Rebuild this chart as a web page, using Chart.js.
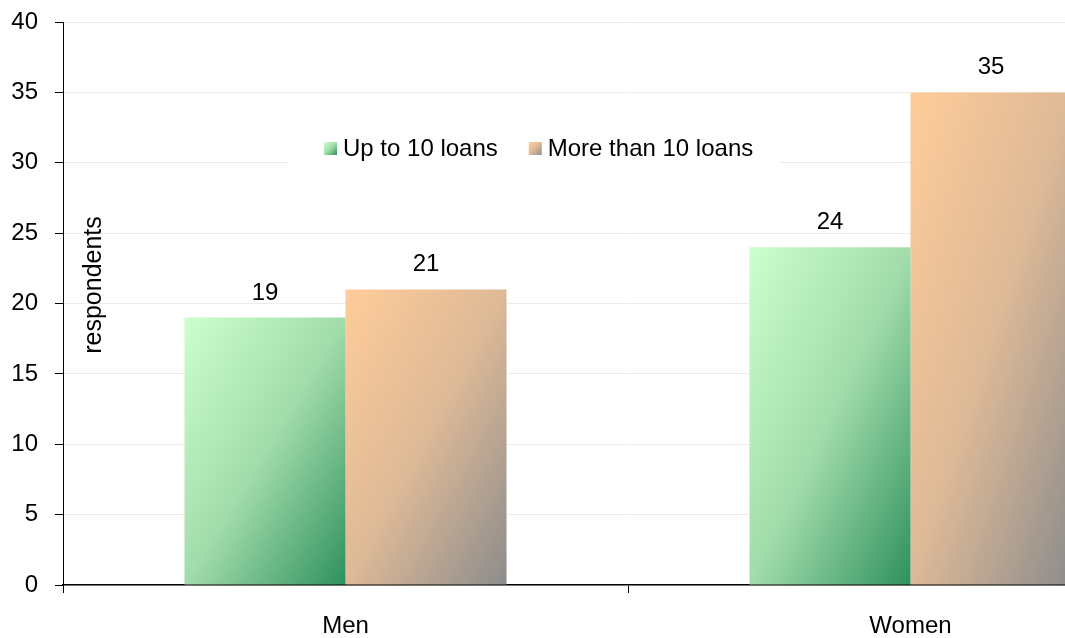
<!DOCTYPE html>
<html>
<head>
<meta charset="utf-8">
<script src="https://cdn.jsdelivr.net/npm/chart.js@4.4.1/dist/chart.umd.min.js"></script>
<style>
  html, body { margin: 0; padding: 0; background: #fff; overflow: hidden; width: 1065px; height: 638px; }
  canvas { display: block; }
</style>
</head>
<body>
<canvas id="chart" width="1200" height="638"></canvas>
<script>
const categories = ['Men', 'Women'];
const seriesNames = ['Up to 10 loans', 'More than 10 loans'];
const upToTen = [19, 24];
const moreThanTen = [21, 35];
const yAxisTitle = 'respondents';

const FONT = 'Arial, "Liberation Sans", sans-serif';

// colour stops for the diagonal fills (top-left -> bottom-right)
const greenStops = ['#ccffcc', '#a2dcab', '#2f915e'];
const orangeStops = ['#ffcc99', '#ddb997', '#8c8c8c'];

function diagonalFill(ctx, left, top, w, h, stops) {
  // t = (x/w + y/h) / 2, same as a shape-relative 45deg gradient
  const gx = 1 / (2 * w), gy = 1 / (2 * h);
  const n = gx * gx + gy * gy;
  const g = ctx.createLinearGradient(left, top, left + gx / n, top + gy / n);
  g.addColorStop(0, stops[0]);
  g.addColorStop(0.5, stops[1]);
  g.addColorStop(1, stops[2]);
  return g;
}

const fills = [greenStops, orangeStops];

const gradientBars = {
  id: 'gradientBars',
  beforeDatasetsDraw(chart) {
    const ctx = chart.ctx;
    chart.data.datasets.forEach((ds, i) => {
      chart.getDatasetMeta(i).data.forEach((el) => {
        const p = el.getProps(['x', 'y', 'base', 'width'], true);
        const top = Math.min(p.y, p.base);
        const h = Math.abs(p.base - p.y);
        el.options.backgroundColor = diagonalFill(ctx, p.x - p.width / 2, top, p.width, h, fills[i]);
      });
    });
  },
  afterDatasetsDraw(chart) {
    const ctx = chart.ctx;
    ctx.save();
    ctx.fillStyle = '#000';
    ctx.font = '24px ' + FONT;
    ctx.textAlign = 'center';
    ctx.textBaseline = 'alphabetic';
    chart.data.datasets.forEach((ds, i) => {
      chart.getDatasetMeta(i).data.forEach((el, j) => {
        ctx.fillText(String(ds.data[j]), el.x, el.y - 18);
      });
    });

    // y axis title, drawn inside the plot
    ctx.save();
    ctx.translate(101, 285);
    ctx.rotate(-Math.PI / 2);
    ctx.font = '25px ' + FONT;
    ctx.fillText(yAxisTitle, 0, 0);
    ctx.restore();

    // legend box
    ctx.fillStyle = '#fff';
    ctx.fillRect(288, 130, 492, 58);
    ctx.font = '24px ' + FONT;
    ctx.textAlign = 'left';
    let x = 324;
    seriesNames.forEach((name, i) => {
      ctx.fillStyle = diagonalFill(ctx, x, 142, 13, 13, fills[i]);
      ctx.fillRect(x, 142, 13, 13);
      ctx.fillStyle = '#000';
      ctx.fillText(name, x + 19, 156);
      x += 19 + ctx.measureText(name).width + 31;
    });
    ctx.restore();
  }
};

new Chart(document.getElementById('chart'), {
  type: 'bar',
  data: {
    labels: categories,
    datasets: [
      { label: seriesNames[0], data: upToTen, backgroundColor: () => greenStops[1], borderWidth: 0 },
      { label: seriesNames[1], data: moreThanTen, backgroundColor: () => orangeStops[1], borderWidth: 0 },
    ],
  },
  options: {
    responsive: false,
    animation: false,
    layout: { padding: { top: 22, right: 7, left: 0, bottom: 0 } },
    datasets: { bar: { categoryPercentage: 0.57, barPercentage: 1.0 } },
    plugins: {
      legend: { display: false },
      tooltip: { enabled: false },
    },
    scales: {
      x: {
        grid: { offset: true, drawOnChartArea: false, tickLength: 8, tickColor: '#000', tickWidth: 1 },
        border: { color: '#000', width: 1.5 },
        ticks: { color: '#000', font: { family: FONT, size: 24 }, padding: 19 },
        afterFit: (s) => { s.height = 53; s.paddingLeft = 0; s.paddingRight = 0; },
      },
      y: {
        min: 0,
        max: 40,
        ticks: { stepSize: 5, color: '#000', font: { family: FONT, size: 24 }, padding: 17 },
        grid: { color: '#efece2', lineWidth: 1, tickColor: '#000', tickLength: 8 },
        border: { color: '#000', width: 1 },
        afterFit: (s) => { s.width = 63; s.paddingTop = 0; s.paddingBottom = 0; },
      },
    },
  },
  plugins: [gradientBars],
});
</script>
</body>
</html>
